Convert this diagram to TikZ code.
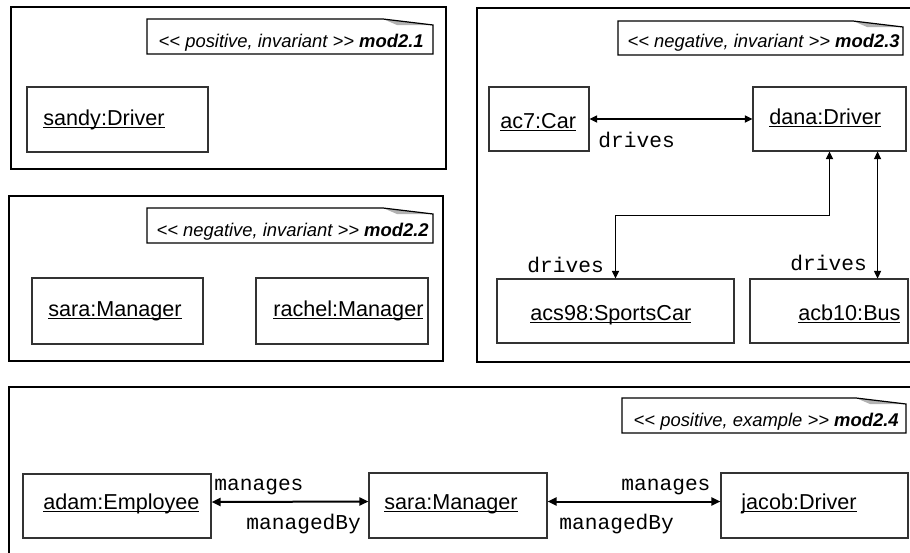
\documentclass[tikz,border=0pt]{standalone}
\usepackage{fontspec}
\setmainfont{Liberation Sans}
\setsansfont{Liberation Sans}
\setmonofont{Liberation Mono}
\usetikzlibrary{arrows.meta, positioning, fit, calc}

\tikzset{
  frame/.style={draw, line width=1.3pt},
  obj/.style={draw=black!80, line width=0.55pt, inner sep=0pt},
  objtxt/.style={anchor=base west, inner sep=0pt, font=\fontsize{10.8}{13}\selectfont},
  role/.style={anchor=west, inner sep=0pt, font=\ttfamily\fontsize{10.6}{12}\selectfont},
  notetxt/.style={anchor=east, inner sep=0pt, font=\fontsize{9.2}{11}\selectfont\itshape},
  assoc/.style={line width=0.55pt, {Triangle[length=3.8pt,width=3.6pt]}-{Triangle[length=3.8pt,width=3.6pt]}},
  assocb/.style={line width=1pt, {Triangle[length=4.5pt,width=4pt]}-{Triangle[length=4.5pt,width=4pt]}}
}
\newcommand{\uname}[1]{\underline{\smash{#1}}}
\newcommand{\stereo}[1]{<\kern0pt<\ #1\ >\kern0pt>}
% note with folded corner: x1,y1,x2,y2
\newcommand{\umlnote}[4]{%
  \fill[black!30] ({#3-50},#2) -- (#3,{#2+6}) -- ({#3-36},{#2+6}) -- cycle;
  \draw[line width=0.6pt] (#1,#2) -- ({#3-50},#2) -- (#3,{#2+6}) -- (#3,#4) -- (#1,#4) -- cycle;}

\begin{document}
\begin{tikzpicture}[x=0.5pt, y=-0.5pt]
\useasboundingbox (0,0) rectangle (910,552);
\clip (0,0) rectangle (910,552);

% mod2.1
\draw[frame] (11,7) rectangle (446,169);
\umlnote{147}{19}{433}{54}
\node[notetxt] (n1) at (424,43) {\stereo{positive, invariant} \textbf{mod2.1}};
\node[obj, fit={(27,87) (208,152)}] (sandy) {};
\node[objtxt] (sandyt) at (43,125) {\uname{sandy:Driver}};

% mod2.2
\draw[frame] (9,196) rectangle (443,361);
\umlnote{147}{208}{433}{243}
\node[notetxt] (n2) at (429,232) {\stereo{negative, invariant} \textbf{mod2.2}};
\node[obj, fit={(32,278) (203,344)}] (sara) {};
\node[objtxt] (sarat) at (48,316) {\uname{sara:Manager}};
\node[obj, fit={(256,278) (428,344)}] (rachel) {};
\node[objtxt] (rachelt) at (273,316) {\uname{rachel:Manager}};

% mod2.3
\draw[frame] (477,8) rectangle (916,362);
\umlnote{618}{21}{903}{55}
\node[notetxt] (n3) at (900,43) {\stereo{negative, invariant} \textbf{mod2.3}};
\node[obj, fit={(489,87) (589,151)}] (ac7) {};
\node[objtxt] (ac7t) at (500,128) {\uname{ac7:Car}};
\node[obj, fit={(753,87) (906,151)}] (dana) {};
\node[objtxt] (danat) at (769,124) {\uname{dana:Driver}};
\node[obj, fit={(497,279) (734,343)}] (acs98) {};
\node[objtxt] (acs98t) at (530,320) {\uname{acs98:SportsCar}};
\node[obj, fit={(750,279) (908,343)}] (acb10) {};
\node[objtxt] (acb10t) at (798,320) {\uname{acb10:Bus}};

\draw[assoc] (ac7.east) -- (dana.west);
\draw[assoc] (dana.south) -- ++(0,64) -| (acs98.north);
\draw[assoc] ($(dana.south east)+(-29,0)$) -- ($(acb10.north east)+(-31,0)$);
\node[role] (dr1) at (598,140) {drives};
\node[role] (dr2) at (527,265) {drives};
\node[role] (dr3) at (790,263) {drives};

% mod2.4
\draw[frame] (9,387) rectangle (916,560);
\umlnote{622}{398}{906}{433}
\node[notetxt] (n4) at (899,422) {\stereo{positive, example} \textbf{mod2.4}};
\node[obj, fit={(23,474) (211,538)}] (adam) {};
\node[objtxt] (adamt) at (43,509) {\uname{adam:Employee}};
\node[obj, fit={(369,473) (547,538)}] (sara2) {};
\node[objtxt] (sara2t) at (384,509) {\uname{sara:Manager}};
\node[obj, fit={(721,473) (908,538)}] (jacob) {};
\node[objtxt] (jacobt) at (741,509) {\uname{jacob:Driver}};

\draw[assocb] ($(adam.east)+(0,-4)$) -- ($(sara2.west)+(0,-4)$);
\draw[assocb] ($(sara2.east)+(0,-4)$) -- ($(jacob.west)+(0,-4)$);
\node[role] (mg1) at (214,487) {manages};
\node[role] (mb1) at (246,524) {managedBy};
\node[role] (mg2) at (621,487) {manages};
\node[role] (mb2) at (559,524) {managedBy};
\end{tikzpicture}
\end{document}
